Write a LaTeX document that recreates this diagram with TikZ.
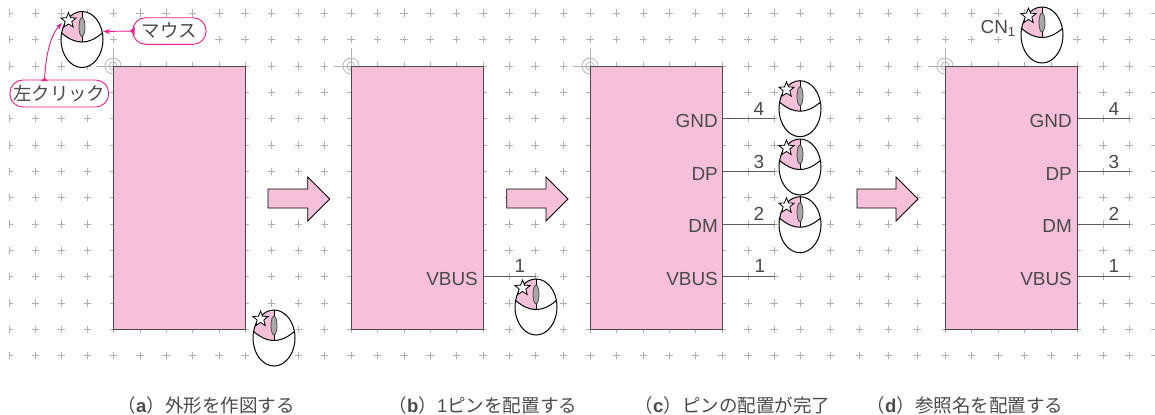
\documentclass[tikz,border=0pt]{standalone}
\usepackage{fontspec}
\setmainfont{Liberation Sans}
\newfontfamily\cjk{Noto Sans CJK JP}
\usetikzlibrary{shapes.geometric,arrows.meta,calc}
\definecolor{boxpink}{HTML}{F7C0DA}
\definecolor{callmag}{HTML}{EC1C8C}
\definecolor{inkgray}{HTML}{4A4A4A}
\definecolor{gridgray}{HTML}{B0B0B0}
\definecolor{wheelgray}{HTML}{A8A8A8}
\tikzset{
  crossmark/.style={draw=gridgray,line width=0.6bp},
  originmark/.style={draw=gridgray,line width=0.7bp},
  pinkbox/.style={draw=inkgray,line width=1bp,fill=boxpink,inner sep=0pt,minimum width=132bp,minimum height=263bp},
  pinline/.style={draw=inkgray!90,line width=0.9bp},
  pinlabel/.style={text=inkgray,inner sep=0pt,anchor=east,font=\fontsize{19}{21}\selectfont},
  pinnum/.style={text=inkgray,inner sep=0pt,font=\fontsize{19}{21}\selectfont},
  blockarrow/.style={draw=black,line width=0.8bp,fill=boxpink,line join=miter},
  calloutbox/.style={draw=callmag,line width=0.9bp,fill=white,rounded corners=13bp,inner sep=0pt,text=inkgray,font=\fontsize{18.5}{20}\selectfont\cjk},
  callarrow/.style={draw=callmag,line width=0.9bp,-{Stealth[length=7bp,width=5bp]}},
  caption/.style={anchor=west,inner sep=0pt,text=inkgray,font=\fontsize{18.6}{20}\selectfont\cjk},
  mousepic/.pic={
    \fill[white] (0,0) ellipse [x radius=21, y radius=28];
    \begin{scope}
      \clip (0,0) ellipse [x radius=21, y radius=28];
      \fill[boxpink] (-20.4,-6.5) .. controls (-12,0.5) and (-6,2.5) .. (0,2.5) -- (0,-30) -- (-25,-30) -- cycle;
    \end{scope}
    \draw[line width=1bp] (0,0) ellipse [x radius=21, y radius=28];
    \draw[line width=1bp] (-20.4,-6.5) .. controls (-12,0.5) and (-6,2.5) .. (0,2.5) .. controls (6,2.5) and (12,0.5) .. (20.4,-6.5);
    \draw[line width=1bp] (0,-28) -- (0,2.5);
    \draw[line width=0.8bp,draw=inkgray,fill=wheelgray] (0,-12.5) ellipse [x radius=3, y radius=9.5];
    \node[star,star points=5,star point ratio=2.3,draw=black,fill=white,line width=0.8bp,inner sep=0pt,minimum size=16bp] at (-13.5,-19) {};
  }
}
\begin{document}
\begin{tikzpicture}[x=1bp,y=-1bp]
\useasboundingbox (0,0) rectangle (1155,414);
% grid
\foreach \gy in {13,39.6,66,92.3,118.6,145,171.2,197.6,224,250.2,276.6,303,329.2,355.4}{
  \foreach \gx in {35.6,61.2,87.2,113.4,140,166,192.2,218.8,245,271.5,298.2,324.4,351,377.4,404,430,456.5,483,509,535,563.3,590,616.3,643.2,669,695.5,722,748,774,800,830.7,859.2,888.2,917.2,945.2,971.5,998,1024.5,1051,1077,1103,1129,1155}{
    \draw[crossmark] (\gx-3.7,\gy) -- (\gx+3.7,\gy) (\gx,\gy-3.7) -- (\gx,\gy+3.7);
  }
}
\foreach \gy in {13,39.6,66,118.6,145,171.2,197.6,224,250.2,276.6,303,329.2,355.4}{
  \draw[crossmark] (9.5,\gy-3.7) -- (9.5,\gy+3.7) (9.5,\gy) -- (13,\gy);
}
% origin marks
\foreach \ox in {113,351,590,945}{
  \draw[originmark] (\ox,66) circle [radius=8] (\ox,66) circle [radius=4];
  \draw[originmark] (\ox,48) -- (\ox,66) (\ox-17,66) -- (\ox,66);
}
% boxes
\node[pinkbox] (boxa) at (179.2,197.6) {};
\node[pinkbox] (boxb) at (417,197.6) {};
\node[pinkbox] (boxc) at (656,197.6) {};
\node[pinkbox] (boxd) at (1011,197.6) {};
% pins
\coordinate (bvb) at (536,276.6);
\coordinate (cgnd) at (775,118.6);
\coordinate (cdp) at (775,171.2);
\coordinate (cdm) at (775,224);
\coordinate (cvb) at (775,276.6);
\coordinate (dgnd) at (1130,118.6);
\coordinate (ddp) at (1130,171.2);
\coordinate (ddm) at (1130,224);
\coordinate (dvb) at (1130,276.6);
\draw[pinline] (boxb.east |- bvb) -- (bvb);
\foreach \p in {cgnd,cdp,cdm,cvb}{\draw[pinline] (boxc.east |- \p) -- (\p);}
\foreach \p in {dgnd,ddp,ddm,dvb}{\draw[pinline] (boxd.east |- \p) -- (\p);}
% labels
\node[pinlabel] (lb) at (478,278.6) {VBUS};
\node[pinnum] (nb) at (520,266) {1};
\node[pinlabel] (lc4) at (718,121) {GND};
\node[pinlabel] (lc3) at (718,173.5) {DP};
\node[pinlabel] (lc2) at (718,226) {DM};
\node[pinlabel] (lc1) at (718,278.6) {VBUS};
\node[pinnum] (nc4) at (759,109) {4};
\node[pinnum] (nc3) at (759,162) {3};
\node[pinnum] (nc2) at (759,214) {2};
\node[pinnum] (nc1) at (760,266) {1};
\node[pinlabel] (ld4) at (1072,121) {GND};
\node[pinlabel] (ld3) at (1072,173.5) {DP};
\node[pinlabel] (ld2) at (1072,226) {DM};
\node[pinlabel] (ld1) at (1072,278.6) {VBUS};
\node[pinnum] (nd4) at (1114,109) {4};
\node[pinnum] (nd3) at (1114,162) {3};
\node[pinnum] (nd2) at (1114,214) {2};
\node[pinnum] (nd1) at (1114,266) {1};
\node[pinnum,anchor=east] (cn) at (1016,28) {CN$_{\mathrm{1}}$};
% block arrows
\foreach \ax/\ah in {268/307.7,506.7/546,857/896}{
  \draw[blockarrow] (\ax,189) -- (\ah,189) -- (\ah,177) -- (\ah+22,199) -- (\ah,221) -- (\ah,208) -- (\ax,208) -- cycle;
}
% mice
\pic at (82,39.5) {mousepic};
\pic at (274,338) {mousepic};
\pic at (536,307) {mousepic};
\pic at (800,108.7) {mousepic};
\pic at (800,167) {mousepic};
\pic at (800,224.7) {mousepic};
\pic at (1042,35) {mousepic};
% callouts
\coordinate (mtip) at (103,31.5);
\coordinate (ctail) at (44.5,79);
\coordinate (ctip) at (62,23);
\draw[callarrow] (133,31) -- (mtip);
\draw[callarrow] (ctail) .. controls (46,55) and (50,36) .. (ctip);
\node[calloutbox,minimum width=73.3bp,minimum height=26.6bp] (mlabel) at (169.4,31) {マウス};
\node[calloutbox,minimum width=98.7bp,minimum height=27bp] (clabel) at (59.3,93.5) {左クリック};
\fill[callmag] (130,31) -- (134.5,27) -- (134.5,35) -- cycle;
\fill[callmag] (44.5,77.5) -- (41,81) -- (48,81) -- cycle;
% captions
\node[caption] (capa) at (117.5,405.5) {（{\fontspec{Liberation Sans}\bfseries a}）外形を作図する};
\node[caption] (capb) at (388.5,405.5) {（{\fontspec{Liberation Sans}\bfseries b}）{\fontspec{Liberation Sans}1}ピンを配置する};
\node[caption] (capc) at (634.5,405.5) {（{\fontspec{Liberation Sans}\bfseries c}）ピンの配置が完了};
\node[caption] (capd) at (866.5,405.5) {（{\fontspec{Liberation Sans}\bfseries d}）参照名を配置する};
\end{tikzpicture}
\end{document}
